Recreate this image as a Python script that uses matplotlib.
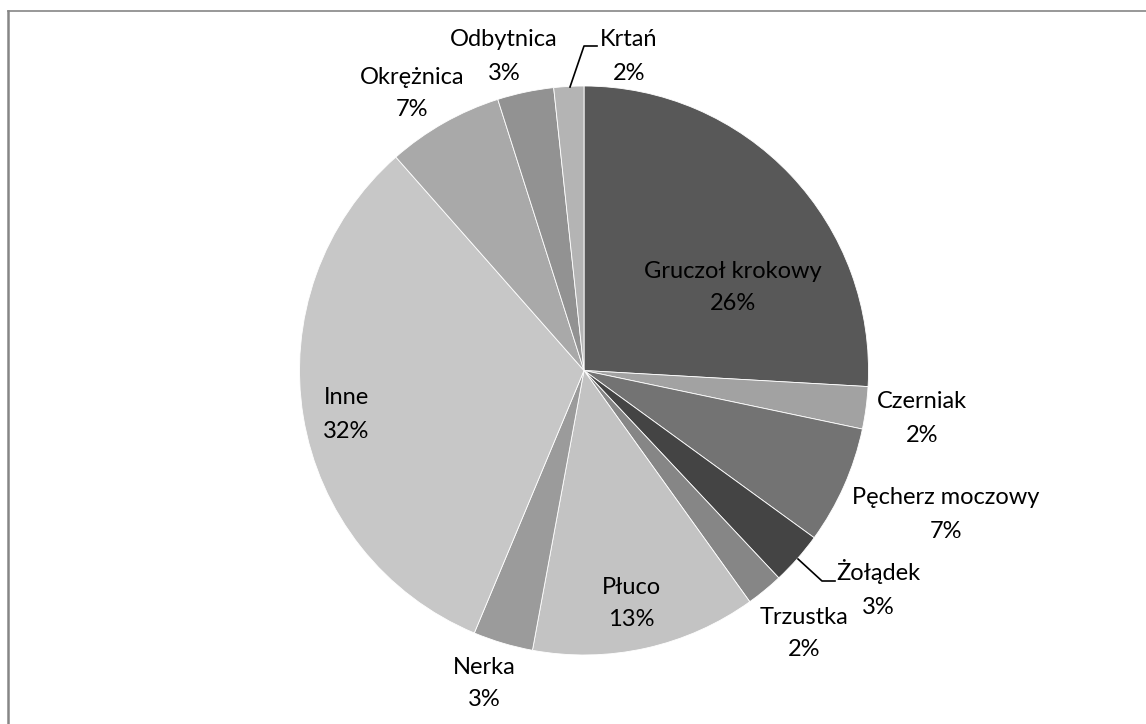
import matplotlib.pyplot as plt
from matplotlib.lines import Line2D

# dane (udział procentowy)
labels = ["Gruczoł krokowy", "Czerniak", "Pęcherz moczowy", "Żołądek", "Trzustka",
          "Płuco", "Nerka", "Inne", "Okrężnica", "Odbytnica", "Krtań"]
values = [25.9, 2.4, 6.7, 3.0, 2.1, 12.8, 3.4, 32.2, 6.6, 3.2, 1.7]
colors = ["#585858", "#a2a2a2", "#737373", "#444444", "#868686",
          "#c3c3c3", "#9b9b9b", "#c7c7c7", "#a9a9a9", "#929292", "#b4b4b4"]

W, H = 1146, 724
# środki etykiet (piksele, od góry)
label_pos = [(733, 287), (922, 418), (946, 514), (878, 590), (804, 633),
             (631, 603), (484, 683), (346, 414), (412, 93), (504, 56), (629, 56)]
# linie odniesienia
leaders = {3: [(798, 559), (822, 581), (835, 581)],
           10: [(570, 87), (584, 46), (597, 46)]}

fig = plt.figure(figsize=(W / 100, H / 100), dpi=100)
ax = fig.add_axes([0, 0, 1, 1])

ax.pie(values, colors=colors, startangle=90, counterclock=False,
       center=(584, H - 370.5), radius=284.5, frame=True,
       wedgeprops=dict(edgecolor="white", linewidth=0.6))
ax.set_xlim(0, W)
ax.set_ylim(0, H)
ax.set_aspect("equal")
ax.axis("off")

for lab, v, (px, py) in zip(labels, values, label_pos):
    ax.text(px, H - (py - 16.5) - 7, lab, ha="center", va="baseline",
            fontsize=17, family="Lato", color="black")
    ax.text(px, H - (py + 16.5) - 7, f"{round(v)}%", ha="center", va="baseline",
            fontsize=17, family="Lato", color="black")

for i, pts in leaders.items():
    xs = [p[0] for p in pts]
    ys = [H - p[1] for p in pts]
    ax.add_line(Line2D(xs, ys, color="black", linewidth=1.2))

# ramka (góra i lewo)
ax.add_line(Line2D([8, W], [H - 11, H - 11], color="#868686", linewidth=1.2))
ax.add_line(Line2D([8, 8], [H - 11, 0], color="#868686", linewidth=1.8))

fig.savefig("out.png", dpi=100, facecolor="white")
